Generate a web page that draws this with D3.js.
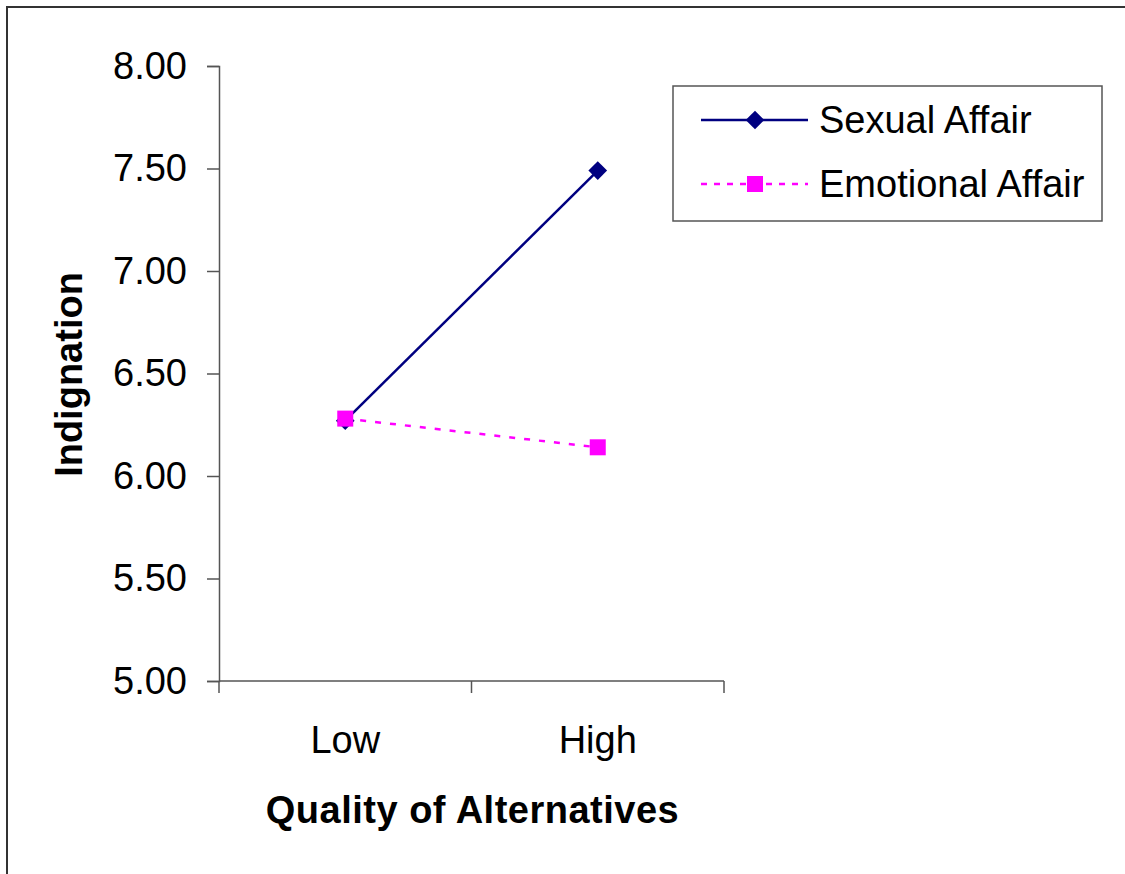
<!DOCTYPE html>
<html>
<head>
<meta charset="utf-8">
<script src="https://cdn.jsdelivr.net/npm/d3@7"></script>
<style>
  body { margin: 0; background: #fff; }
  svg { display: block; font-family: "Liberation Sans", Arial, sans-serif; }
</style>
</head>
<body>
<div id="chart"></div>
<script>
// DATA ##################################################
const categories = ["Low", "High"];
const sexualAffair = [6.27, 7.49];
const emotionalAffair = [6.28, 6.14];
const yTicks = [5.00, 5.50, 6.00, 6.50, 7.00, 7.50, 8.00];

// CONSTANTS #############################################
const width = 1125;
const height = 874;
const plotLeft = 219, plotRight = 724, plotTop = 66, plotBottom = 681;
const fontSize = 38;

const svg = d3.select("#chart").append("svg")
    .attr("width", width)
    .attr("height", height);

// frame (top + left edges visible)
svg.append("rect")
    .attr("x", 7).attr("y", 7)
    .attr("width", width + 20).attr("height", height + 20)
    .attr("fill", "none")
    .attr("stroke", "#333")
    .attr("stroke-width", 2);

// SCALES ================================================
const xBand = d3.scaleBand()
    .domain(categories)
    .range([plotLeft, plotRight]);

const yScale = d3.scaleLinear()
    .domain([5, 8])
    .range([plotBottom, plotTop]);

const xPos = c => xBand(c) + xBand.bandwidth() / 2;

// AXES ==================================================
const yAxis = svg.append("g")
    .attr("transform", `translate(${plotLeft},0)`)
    .call(d3.axisLeft(yScale).tickValues(yTicks).tickFormat(d3.format(".2f")).tickSize(12).tickPadding(20));
yAxis.select(".domain").attr("stroke", "#555").attr("stroke-width", 1.5);
yAxis.selectAll(".tick line").attr("stroke", "#555").attr("stroke-width", 1.5);
yAxis.selectAll(".tick text")
    .style("font-size", fontSize + "px")
    .style("font-family", "Liberation Sans, Arial, sans-serif")
    .attr("fill", "#000");

// x axis: ticks at category boundaries
const xAxis = svg.append("g")
    .attr("transform", `translate(0,${plotBottom})`);
xAxis.append("line")
    .attr("x1", plotLeft).attr("x2", plotRight)
    .attr("stroke", "#555").attr("stroke-width", 1.5);
const boundaries = categories.map(c => xBand(c)).concat([xBand(categories[categories.length - 1]) + xBand.bandwidth()]);
xAxis.selectAll("line.tick")
    .data(boundaries)
    .join("line")
    .attr("class", "tick")
    .attr("x1", d => d).attr("x2", d => d)
    .attr("y1", 0).attr("y2", 12)
    .attr("stroke", "#555").attr("stroke-width", 1.5);
xAxis.selectAll("text")
    .data(categories)
    .join("text")
    .attr("x", d => xPos(d))
    .attr("y", 72)
    .attr("text-anchor", "middle")
    .style("font-size", fontSize + "px")
    .text(d => d);

// AXIS TITLES ===========================================
svg.append("text")
    .attr("x", (plotLeft + plotRight) / 2 + 1)
    .attr("y", 823)
    .attr("text-anchor", "middle")
    .style("font-size", "38px")
    .style("font-weight", "bold")
    .style("letter-spacing", "0.5px")
    .text("Quality of Alternatives");

svg.append("text")
    .attr("transform", `translate(82,${(plotTop + plotBottom) / 2 + 1}) rotate(-90)`)
    .attr("text-anchor", "middle")
    .style("font-size", "38px")
    .style("font-weight", "bold")
    .text("Indignation");

// LINES =================================================
const line = d3.line()
    .x((d, i) => xPos(categories[i]))
    .y(d => yScale(d));

svg.append("path")
    .datum(sexualAffair)
    .attr("d", line)
    .attr("fill", "none")
    .attr("stroke", "#000080")
    .attr("stroke-width", 2.5);

svg.append("path")
    .datum(emotionalAffair)
    .attr("d", line)
    .attr("fill", "none")
    .attr("stroke", "#FF00FF")
    .attr("stroke-width", 2.5)
    .attr("stroke-dasharray", "6,9");

const diamond = d3.symbol().type(d3.symbolSquare).size(175);

svg.selectAll("path.diamond")
    .data(sexualAffair)
    .join("path")
    .attr("class", "diamond")
    .attr("d", diamond)
    .attr("transform", (d, i) => `translate(${xPos(categories[i])},${yScale(d)}) rotate(45)`)
    .attr("fill", "#000080");

svg.selectAll("rect.sq")
    .data(emotionalAffair)
    .join("rect")
    .attr("class", "sq")
    .attr("x", (d, i) => xPos(categories[i]) - 8)
    .attr("y", d => yScale(d) - 8)
    .attr("width", 16).attr("height", 16)
    .attr("fill", "#FF00FF");

// LEGEND ================================================
const legend = svg.append("g");
legend.append("rect")
    .attr("x", 673).attr("y", 86)
    .attr("width", 429).attr("height", 135)
    .attr("fill", "#fff")
    .attr("stroke", "#555")
    .attr("stroke-width", 1.5);

const legendItems = [
    { name: "Sexual Affair", color: "#000080", dash: null, marker: "diamond", y: 120 },
    { name: "Emotional Affair", color: "#FF00FF", dash: "6,7", marker: "square", y: 184 }
];

legendItems.forEach(item => {
    legend.append("line")
        .attr("x1", 701).attr("x2", 808)
        .attr("y1", item.y).attr("y2", item.y)
        .attr("stroke", item.color)
        .attr("stroke-width", 2.5)
        .attr("stroke-dasharray", item.dash);
    if (item.marker === "diamond") {
        legend.append("path")
            .attr("d", diamond)
            .attr("transform", `translate(755,${item.y}) rotate(45)`)
            .attr("fill", item.color);
    } else {
        legend.append("rect")
            .attr("x", 747).attr("y", item.y - 8)
            .attr("width", 16).attr("height", 16)
            .attr("fill", item.color);
    }
    legend.append("text")
        .attr("x", 819)
        .attr("y", item.y + 13)
        .style("font-size", fontSize + "px")
        .text(item.name);
});
</script>
</body>
</html>
